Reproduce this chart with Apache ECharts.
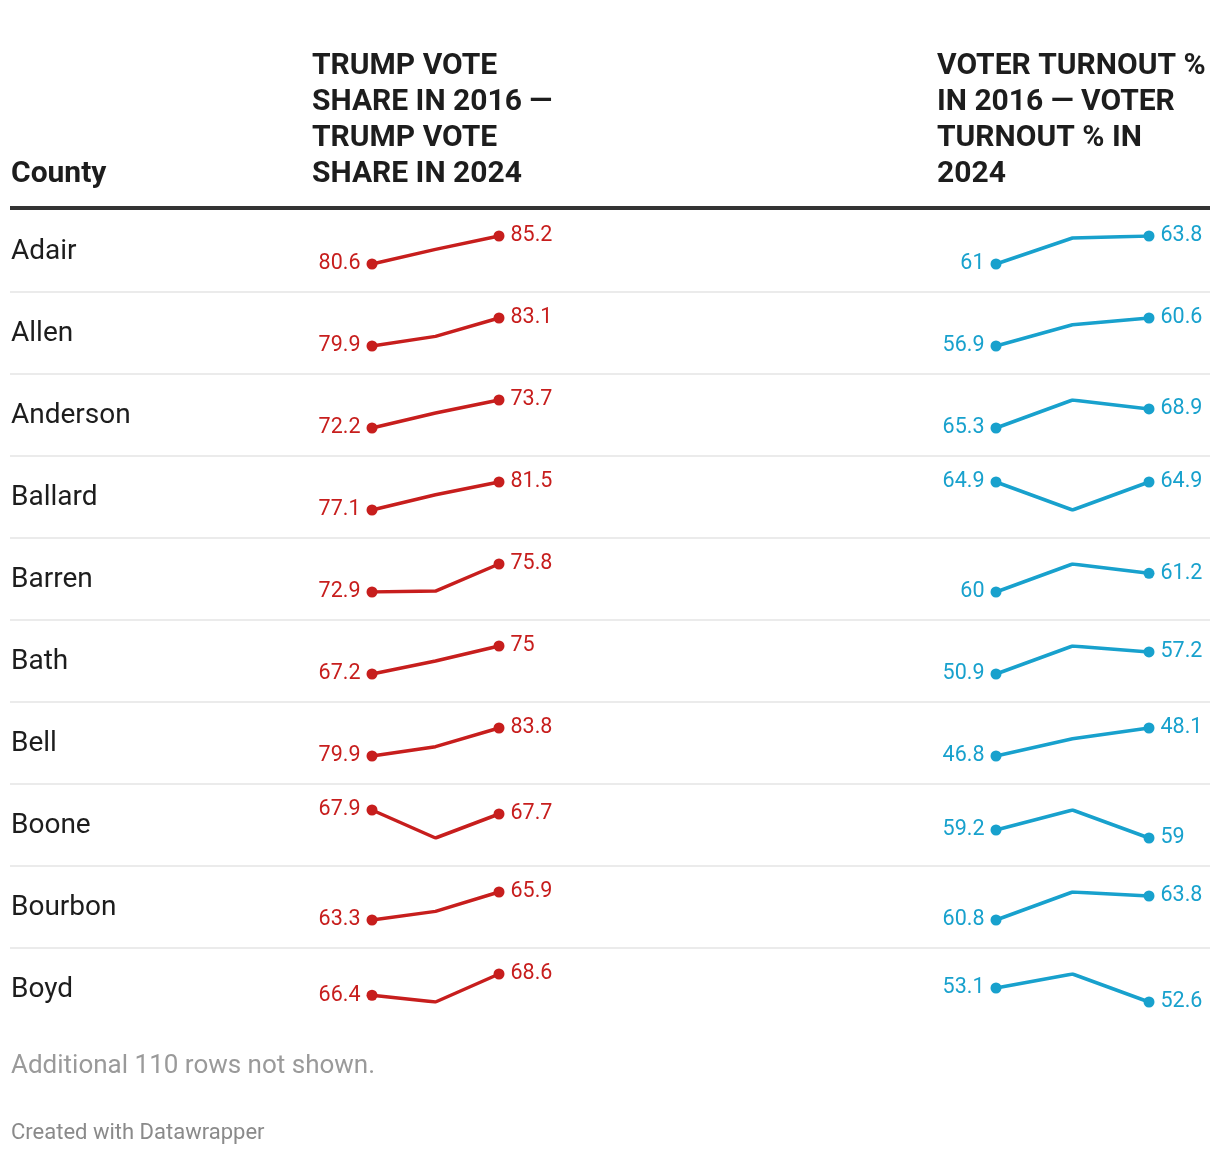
<!DOCTYPE html>
<html>
<head>
<meta charset="utf-8">
<script src="https://cdn.jsdelivr.net/npm/echarts@6/dist/echarts.min.js"></script>
<style>
html,body{margin:0;padding:0;background:#fff;}
#chart{width:1220px;height:1154px;}
</style>
</head>
<body>
<div id="chart"></div>
<script>
// ---- Data ----
const counties = ['Adair','Allen','Anderson','Ballard','Barren','Bath','Bell','Boone','Bourbon','Boyd'];
const years = ['2016','2020','2024'];
const trump2016 = [80.6, 79.9, 72.2, 77.1, 72.9, 67.2, 79.9, 67.9, 63.3, 66.4];
const trump2020 = [83.0, 81.0, 73.0, 79.5, 73.0, 70.8, 81.2, 66.5, 64.1, 65.7];
const trump2024 = [85.2, 83.1, 73.7, 81.5, 75.8, 75, 83.8, 67.7, 65.9, 68.6];
const turnout2016 = [61, 56.9, 65.3, 64.9, 60, 50.9, 46.8, 59.2, 60.8, 53.1];
const turnout2020 = [63.6, 59.7, 70.6, 62.5, 61.8, 58.9, 47.6, 59.7, 64.3, 53.6];
const turnout2024 = [63.8, 60.6, 68.9, 64.9, 61.2, 57.2, 48.1, 59, 63.8, 52.6];
const headerCounty = 'County';
const headerTrump = ['TRUMP VOTE', 'SHARE IN 2016 —', 'TRUMP VOTE', 'SHARE IN 2024'];
const headerTurnout = ['VOTER TURNOUT %', 'IN 2016 — VOTER', 'TURNOUT % IN', '2024'];
const notes = 'Additional 110 rows not shown.';
const credit = 'Created with Datawrapper';

// ---- Layout / style ----
const FONT = 'Roboto, "Noto Sans", sans-serif';
const RED = '#c71e1d', BLUE = '#18a1cd';
const rowTop0 = 210, rowH = 82, sparkOffset = 26, sparkH = 28;
const redLeft = 372, redW = 127, blueLeft = 996, blueW = 153;

const grids = [], xAxes = [], yAxes = [], series = [], graphics = [];

function addSpark(rowIdx, vals, left, width, color) {
  const gi = grids.length;
  grids.push({left: left, width: width, top: rowTop0 + rowH * rowIdx + sparkOffset, height: sparkH, containLabel: false});
  xAxes.push({gridIndex: gi, type: 'category', data: years, boundaryGap: false, show: false});
  yAxes.push({gridIndex: gi, type: 'value', show: false, scale: true,
    min: v => v.min, max: v => v.max, splitLine: {show: false}});
  const lbl = {color: color, fontSize: 21.5, fontFamily: FONT, distance: 6};
  series.push({
    type: 'line', xAxisIndex: gi, yAxisIndex: gi, animation: false, silent: true,
    lineStyle: {color: color, width: 3.5}, itemStyle: {color: color},
    symbol: 'circle', symbolSize: 11,
    data: [
      {value: vals[0], label: Object.assign({show: true, position: 'left'}, lbl)},
      {value: vals[1], symbolSize: 0, label: {show: false}},
      {value: vals[2], label: Object.assign({show: true, position: 'right'}, lbl)}
    ]
  });
}

counties.forEach((c, i) => {
  addSpark(i, [trump2016[i], trump2020[i], trump2024[i]], redLeft, redW, RED);
  addSpark(i, [turnout2016[i], turnout2020[i], turnout2024[i]], blueLeft, blueW, BLUE);
  graphics.push({type: 'text', silent: true, x: 11, y: rowTop0 + rowH * i + 42,
    style: {text: c, fontSize: 28, fontFamily: FONT, fill: '#1d1d1d', verticalAlign: 'middle', align: 'left'}});
  if (i < counties.length - 1) {
    graphics.push({type: 'rect', silent: true,
      shape: {x: 10, y: rowTop0 + rowH * (i + 1) - 1, width: 1200, height: 2},
      style: {fill: '#ebebeb'}});
  }
});

// header rule
graphics.push({type: 'rect', silent: true, shape: {x: 10, y: 206, width: 1200, height: 4}, style: {fill: '#333333'}});

// headers
const hdrStyle = {fontSize: 30, fontWeight: 'bold', fontFamily: FONT, fill: '#1d1d1d'};
const lineCenters = [66, 102, 138, 174];
graphics.push({type: 'text', silent: true, x: 11, y: 174,
  style: Object.assign({text: headerCounty, verticalAlign: 'middle', align: 'left'}, hdrStyle)});
headerTrump.forEach((t, k) => graphics.push({type: 'text', silent: true, x: 312, y: lineCenters[k],
  style: Object.assign({text: t, verticalAlign: 'middle', align: 'left'}, hdrStyle)}));
headerTurnout.forEach((t, k) => graphics.push({type: 'text', silent: true, x: 937, y: lineCenters[k],
  style: Object.assign({text: t, verticalAlign: 'middle', align: 'left'}, hdrStyle)}));

// notes
graphics.push({type: 'text', silent: true, x: 11, y: 1066,
  style: {text: notes, fontSize: 26, fontFamily: FONT, fill: '#9a9a9a', verticalAlign: 'middle', align: 'left'}});
graphics.push({type: 'text', silent: true, x: 11, y: 1133,
  style: {text: credit, fontSize: 22, fontFamily: FONT, fill: '#8a8a8a', verticalAlign: 'middle', align: 'left'}});

const chart = echarts.init(document.getElementById('chart'), null, {renderer: 'canvas'});
chart.setOption({
  backgroundColor: '#ffffff',
  animation: false,
  grid: grids, xAxis: xAxes, yAxis: yAxes, series: series,
  graphic: graphics
});
</script>
</body>
</html>
